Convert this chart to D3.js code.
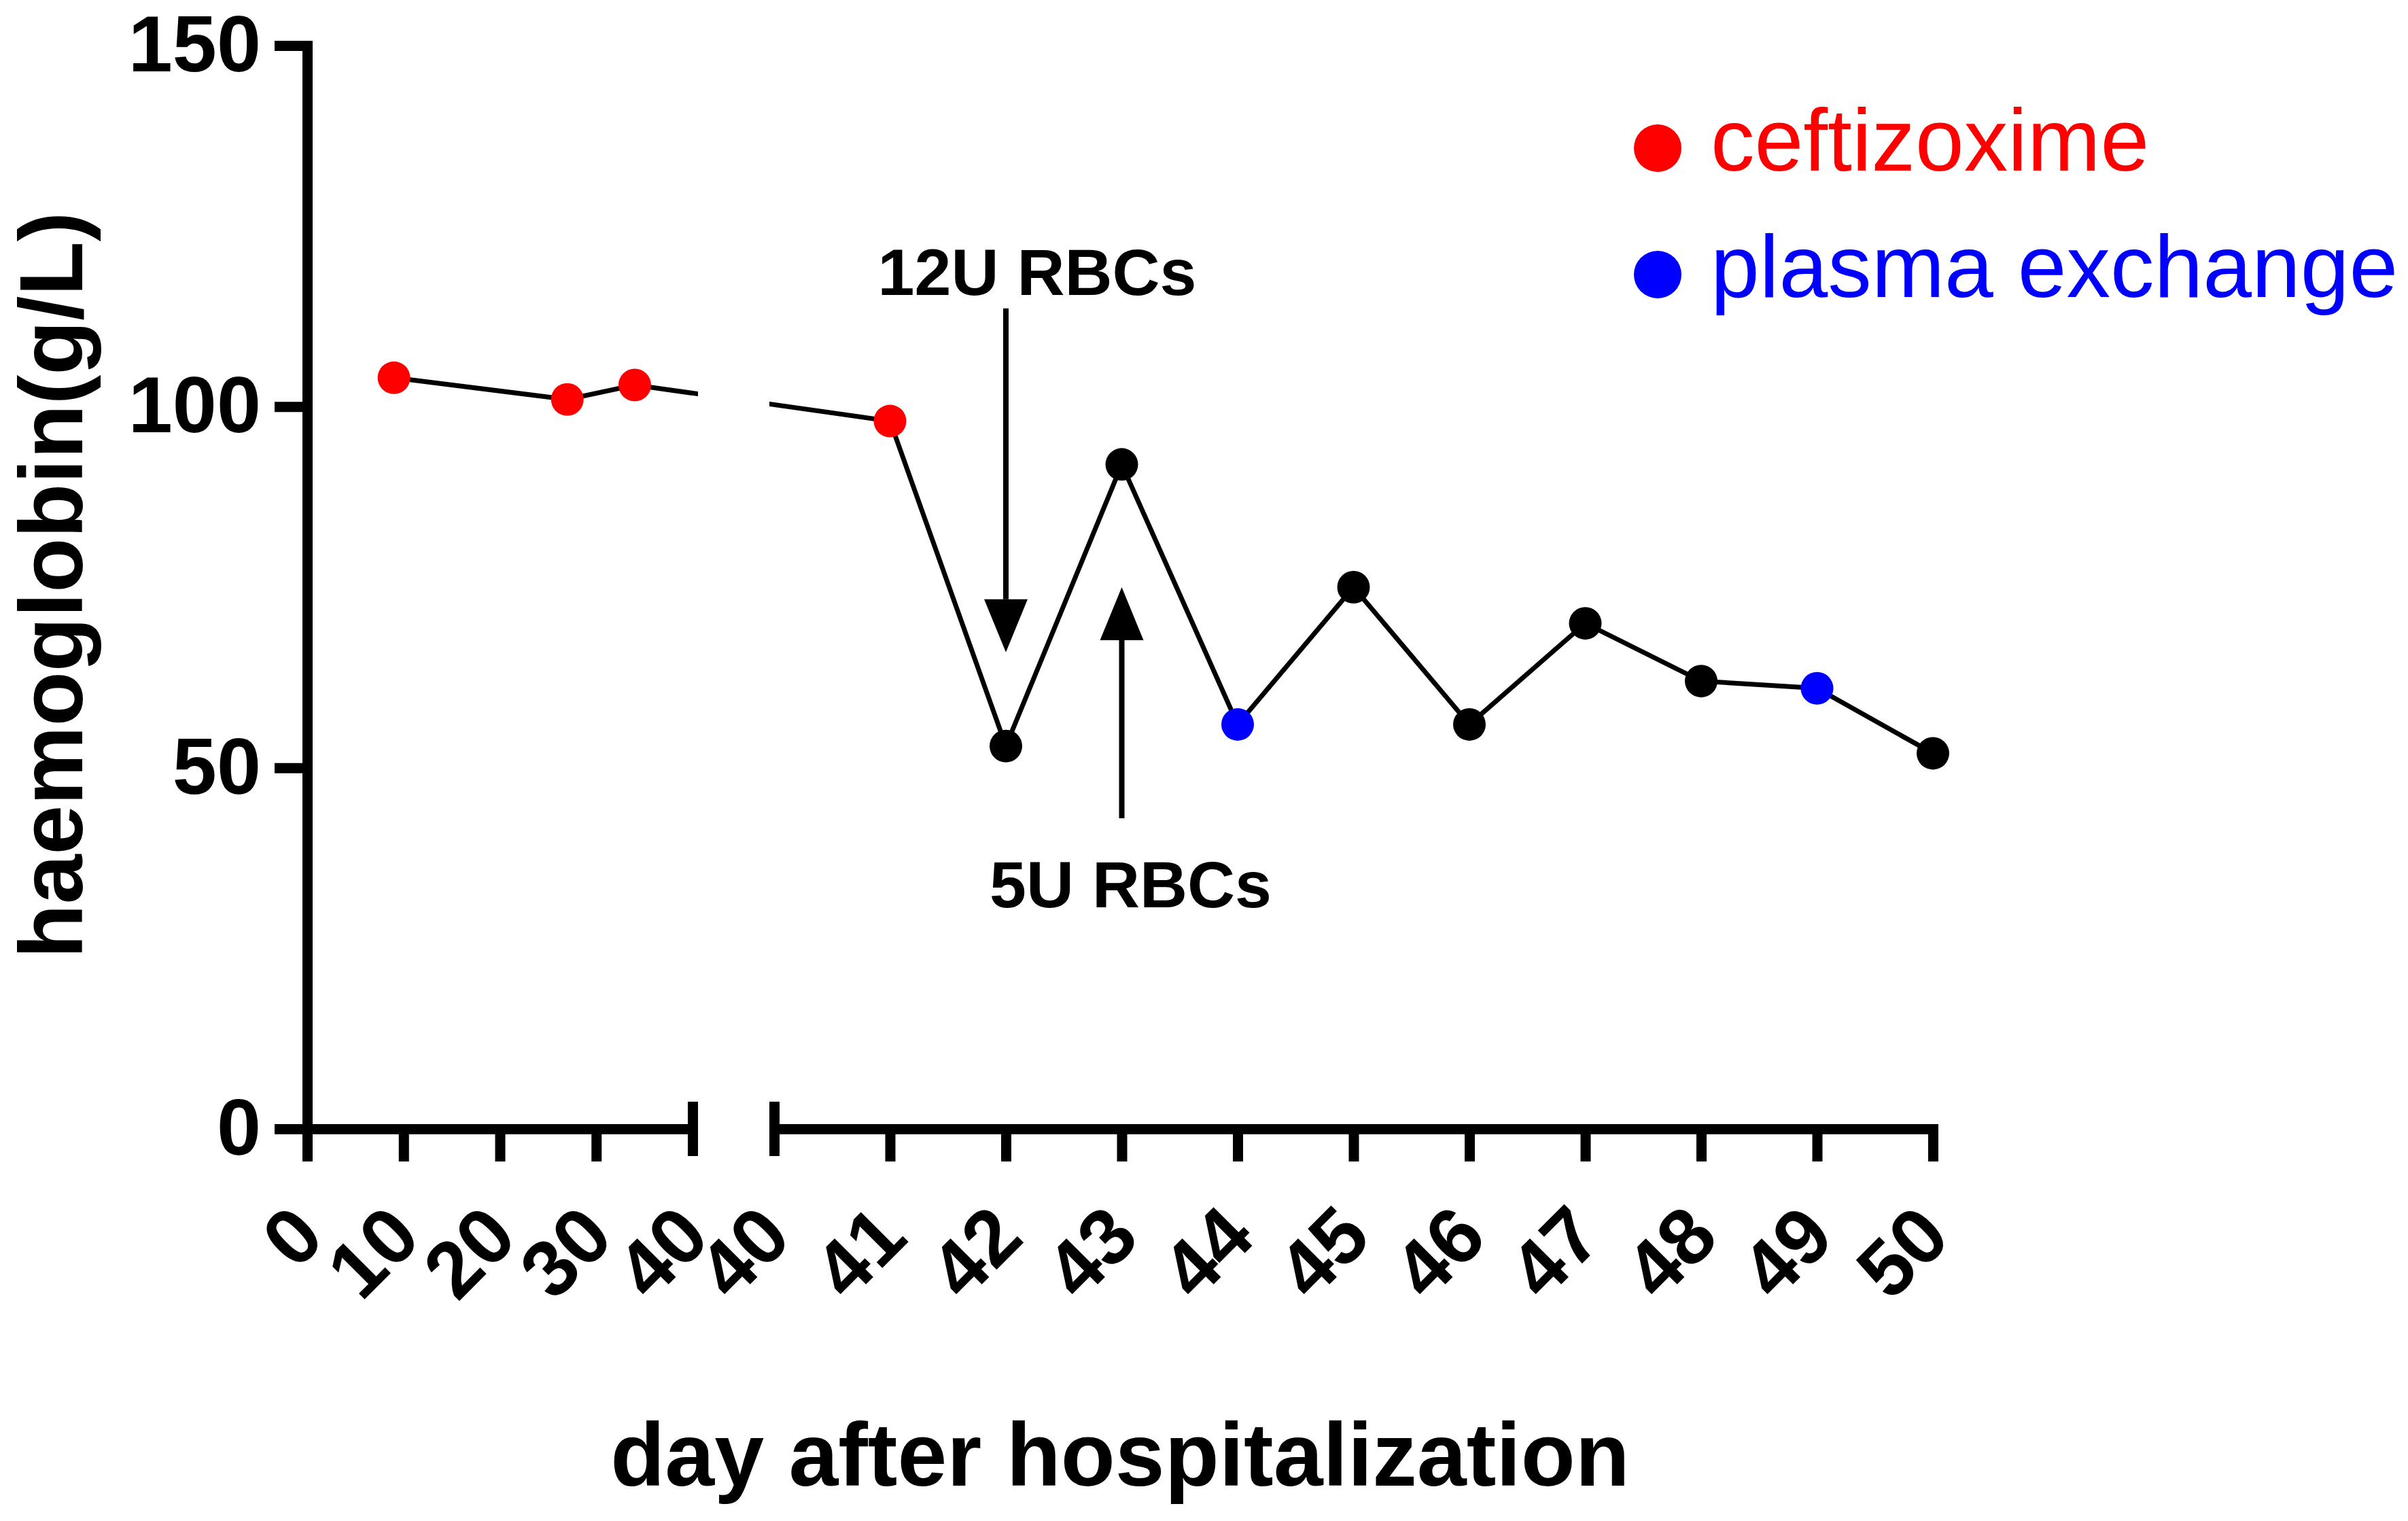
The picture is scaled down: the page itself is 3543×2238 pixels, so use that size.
<!DOCTYPE html>
<html>
<head>
<meta charset="utf-8">
<script src="https://cdn.jsdelivr.net/npm/d3@7"></script>
<style>
  body { margin: 0; background: #fff; }
  svg { display: block; }
</style>
</head>
<body>
<div id="chart"></div>
<script>
// data
const days = [9, 27, 34, 41, 42, 43, 44, 45, 46, 47, 48, 49, 50];
const haemoglobin = [104, 101, 103, 98, 53, 92, 56, 75, 56, 70, 62, 61, 52];
const treatment = ["ceftizoxime", "ceftizoxime", "ceftizoxime", "ceftizoxime",
  "none", "none", "plasma exchange", "none", "none", "none", "none", "plasma exchange", "none"];

const legendLabels = ["ceftizoxime", "plasma exchange"];
const legendColors = ["#ff0000", "#0000ff"];

const yTicks = [0, 50, 100, 150];
const xTicksLeft = [0, 10, 20, 30, 40];
const xTicksRight = [40, 41, 42, 43, 44, 45, 46, 47, 48, 49, 50];

const transfusions = [
  { label: "12U RBCs", day: 42, from: 113.6, to: 66, dir: "down" },
  { label: "5U RBCs", day: 43, from: 43, to: 75, dir: "up" }
];

const width = 3543, height = 2238;
const font = "'Liberation Sans', Arial, Helvetica, sans-serif";

const svg = d3.select("#chart")
  .append("svg")
  .attr("width", width)
  .attr("height", height);

// scales: broken x axis (0-40 | 40-50)
const y = d3.scaleLinear().domain([0, 150]).range([1661, 67]);
const xLeft = d3.scaleLinear().domain([0, 40]).range([452, 1019]);
const xRight = d3.scaleLinear().domain([40, 50]).range([1139, 2844]);
const xPos = (d, i) => (i <= 2 ? xLeft(d) : xRight(d));

const color = d3.scaleOrdinal()
  .domain(["ceftizoxime", "plasma exchange", "none"])
  .range(["#ff0000", "#0000ff", "#000000"]);

const axisY0 = y(0);

// y axis
const gy = svg.append("g")
  .attr("transform", `translate(${xLeft(0)},0)`)
  .call(d3.axisLeft(y).tickValues(yTicks).tickSize(48).tickSizeOuter(0).tickPadding(20));

gy.select(".domain").attr("stroke-width", 15).attr("stroke-linecap", "square");
gy.selectAll(".tick line").attr("stroke-width", 15);
gy.selectAll(".tick text")
  .attr("font-family", font)
  .attr("font-weight", "bold")
  .attr("font-size", 117)
  .attr("fill", "#000");

// x axes, two pieces
function styleX(g) {
  g.select(".domain").attr("stroke-width", 15).attr("stroke-linecap", "square");
  g.selectAll(".tick line").attr("stroke-width", 15);
  g.selectAll(".tick text")
    .attr("font-family", font)
    .attr("font-weight", "bold")
    .attr("font-size", 117)
    .attr("fill", "#000")
    .attr("y", 0)
    .attr("dy", "0.35em")
    .attr("text-anchor", "end")
    .attr("transform", "translate(0,135) rotate(-45)");
}

const gxl = svg.append("g")
  .attr("transform", `translate(0,${axisY0})`)
  .call(d3.axisBottom(xLeft).tickValues(xTicksLeft).tickSize(48).tickSizeOuter(0));
styleX(gxl);
gxl.selectAll(".tick line").filter(d => d === 40).attr("y1", -40).attr("y2", 40);

const gxr = svg.append("g")
  .attr("transform", `translate(0,${axisY0})`)
  .call(d3.axisBottom(xRight).tickValues(xTicksRight).tickSize(48).tickSizeOuter(0));
styleX(gxr);
gxr.selectAll(".tick line").filter(d => d === 40).attr("y1", -40).attr("y2", 40);

// connecting line, with a gap at the axis break
const clip = svg.append("clipPath").attr("id", "brk");
clip.append("rect").attr("x", 0).attr("y", 0).attr("width", 1027).attr("height", height);
clip.append("rect").attr("x", 1132).attr("y", 0).attr("width", width - 1132).attr("height", height);

const pts = days.map((d, i) => [xPos(d, i), y(haemoglobin[i])]);

svg.append("path")
  .attr("clip-path", "url(#brk)")
  .attr("d", d3.line()(pts))
  .attr("fill", "none")
  .attr("stroke", "#000")
  .attr("stroke-width", 7);

svg.append("g")
  .selectAll("circle")
  .data(days)
  .join("circle")
  .attr("cx", (d, i) => xPos(d, i))
  .attr("cy", (d, i) => y(haemoglobin[i]))
  .attr("r", 24)
  .attr("fill", (d, i) => color(treatment[i]));

// transfusion arrows
const ann = svg.append("g");
transfusions.forEach(t => {
  const ax = xRight(t.day);
  const tipY = y(t.to);
  const headH = 78, headW = 32;
  const baseY = t.dir === "down" ? tipY - headH : tipY + headH;
  ann.append("line")
    .attr("x1", ax).attr("x2", ax)
    .attr("y1", y(t.from))
    .attr("y2", baseY)
    .attr("stroke", "#000")
    .attr("stroke-width", 8);
  ann.append("path")
    .attr("d", `M${ax - headW},${baseY}L${ax + headW},${baseY}L${ax},${tipY}Z`)
    .attr("fill", "#000");
});

ann.append("text")
  .attr("x", xRight(42) + 46)
  .attr("y", 434)
  .attr("text-anchor", "middle")
  .attr("font-family", font)
  .attr("font-weight", "bold")
  .attr("font-size", 97)
  .text(transfusions[0].label);

ann.append("text")
  .attr("x", xRight(43) + 13)
  .attr("y", 1335)
  .attr("text-anchor", "middle")
  .attr("font-family", font)
  .attr("font-weight", "bold")
  .attr("font-size", 97)
  .text(transfusions[1].label);

// legend
const leg = svg.append("g")
  .selectAll("g")
  .data(legendLabels)
  .join("g")
  .attr("transform", (d, i) => `translate(2439,${218 + i * 186})`);

leg.append("circle")
  .attr("r", 35)
  .attr("fill", (d, i) => legendColors[i]);

leg.append("text")
  .attr("x", 78)
  .attr("y", 33)
  .attr("font-family", font)
  .attr("font-size", 129)
  .attr("fill", (d, i) => legendColors[i])
  .text(d => d);

// axis titles
svg.append("text")
  .attr("x", 1648)
  .attr("y", 2186)
  .attr("text-anchor", "middle")
  .attr("font-family", font)
  .attr("font-weight", "bold")
  .attr("font-size", 131)
  .text("day after hospitalization");

svg.append("text")
  .attr("transform", "translate(121,861) rotate(-90)")
  .attr("text-anchor", "middle")
  .attr("font-family", font)
  .attr("font-weight", "bold")
  .attr("font-size", 131)
  .text("haemoglobin(g/L)");
</script>
</body>
</html>
